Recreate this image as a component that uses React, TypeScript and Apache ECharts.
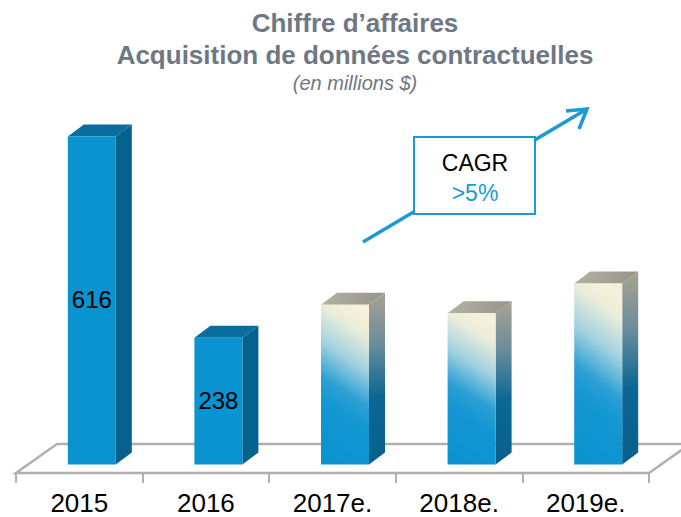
import React, { useEffect, useRef } from "react";
import * as echarts from "echarts";

const categories = ["2015", "2016", "2017e.", "2018e.", "2019e."];
const values = [616, 238, 300, 284, 340];
const valueLabels = ["616", "238", "", "", ""];
const projected = [false, false, true, true, true];
const titleLines = ["Chiffre d’affaires", "Acquisition de données contractuelles"];
const subtitle = "(en millions $)";
const cagrLabel = "CAGR";
const cagrValue = ">5%";

const FONT = "'Liberation Sans', Arial, sans-serif";
const BLUE = "#1b9ad6";

export default function App() {
  const ref = useRef<HTMLDivElement>(null);
  useEffect(() => {
    if (!ref.current) return;
    const chart = echarts.init(ref.current, undefined, { renderer: "svg" });
    const LG = echarts.graphic.LinearGradient;

    const barW = 48;
    const offX = 12.5;
    const offY = -8.5;
    const depX = 16;
    const depY = -12;
    const floorDX = 41;
    const floorDY = -29;

    chart.setOption({
      animation: false,
      backgroundColor: "#ffffff",
      title: {
        text: titleLines.join("\n"),
        subtext: subtitle,
        left: 350,
        textAlign: "center",
        top: 2,
        itemGap: 1,
        textStyle: {
          fontFamily: FONT,
          fontSize: 26,
          fontWeight: "bold",
          color: "#6e7883",
          lineHeight: 32,
        },
        subtextStyle: {
          fontFamily: FONT,
          fontSize: 20,
          fontStyle: "italic",
          color: "#6e7883",
          lineHeight: 22,
        },
      },
      grid: { left: 16, right: 32, top: 47, bottom: 44 },
      xAxis: {
        type: "category",
        data: categories,
        axisLine: { show: true, lineStyle: { color: "#b0b0b0", width: 2 } },
        axisTick: { show: true, length: 10, lineStyle: { color: "#b0b0b0", width: 2 } },
        axisLabel: { fontFamily: FONT, fontSize: 26, color: "#000", margin: 17 },
        splitLine: { show: false },
      },
      yAxis: { type: "value", min: 0, max: 800, show: false },
      series: [
        {
          type: "custom",
          z: 1,
          silent: true,
          clip: false,
          data: [[0, 0]],
          renderItem: (params: any, api: any) => {
            const cs = params.coordSys;
            const x0 = cs.x;
            const x1 = cs.x + cs.width;
            const y = cs.y + cs.height;
            return {
              type: "polygon",
              shape: {
                points: [
                  [x0, y],
                  [x1, y],
                  [x1 + floorDX, y + floorDY],
                  [x0 + floorDX, y + floorDY],
                ],
              },
              style: { fill: "#ffffff", stroke: "#b0b0b0", lineWidth: 2.5 },
            };
          },
        },
        {
          type: "custom",
          z: 2,
          clip: false,
          data: values.map((v, i) => [i, v]),
          renderItem: (params: any, api: any) => {
            const i = api.value(0);
            const v = api.value(1);
            const base = api.coord([i, 0]);
            const top = api.coord([i, v]);
            const xl = base[0] - barW / 2 + offX;
            const xr = xl + barW;
            const yb = base[1] + offY;
            const yt = top[1] + offY;
            const proj = projected[i];
            const frontFill = proj
              ? new LG(0.6, 0, 0.4, 1, [
                  { offset: 0, color: "#f6f1da" },
                  { offset: 0.12, color: "#eaedda" },
                  { offset: 0.33, color: "#a3d2e0" },
                  { offset: 0.55, color: "#2a9fd4" },
                  { offset: 0.7, color: "#1396d1" },
                  { offset: 1, color: "#0b93d0" },
                ])
              : "#0a93d1";
            const sideFill = proj
              ? new LG(0, 0, 0, 1, [
                  { offset: 0, color: "#a7a391" },
                  { offset: 0.3, color: "#6b8c9c" },
                  { offset: 0.6, color: "#0d6794" },
                  { offset: 1, color: "#07608c" },
                ])
              : "#05618e";
            const topFill = proj
              ? new LG(0, 0, 1, 0, [
                  { offset: 0, color: "#b3b1a2" },
                  { offset: 1, color: "#97958a" },
                ])
              : "#0a6d9e";
            const children: any[] = [
              {
                type: "polygon",
                shape: { points: [[xr, yb], [xr + depX, yb + depY], [xr + depX, yt + depY], [xr, yt]] },
                style: { fill: sideFill },
              },
              {
                type: "polygon",
                shape: { points: [[xl, yt], [xr, yt], [xr + depX, yt + depY], [xl + depX, yt + depY]] },
                style: { fill: topFill },
              },
              {
                type: "rect",
                shape: { x: xl, y: yt, width: barW, height: yb - yt },
                style: { fill: frontFill },
              },
            ];
            if (valueLabels[i]) {
              children.push({
                type: "text",
                x: (xl + xr) / 2,
                y: (yt + yb) / 2 - 1,
                style: {
                  text: valueLabels[i],
                  fontFamily: FONT,
                  fontSize: 24,
                  fill: "#000",
                  align: "center",
                  verticalAlign: "middle",
                },
              });
            }
            return { type: "group", children };
          },
        },
      ],
      graphic: [
        {
          type: "line",
          z: 10,
          shape: { x1: 363, y1: 242, x2: 587, y2: 109 },
          style: { stroke: BLUE, lineWidth: 3.5 },
        },
        {
          type: "polyline",
          z: 10,
          shape: { points: [[566, 111], [587, 109], [579, 129]] },
          style: { stroke: BLUE, lineWidth: 3.5, fill: null },
        },
        {
          type: "rect",
          z: 11,
          shape: { x: 414, y: 137, width: 121, height: 77 },
          style: { fill: "#ffffff", stroke: BLUE, lineWidth: 2 },
        },
        {
          type: "text",
          z: 12,
          x: 475,
          y: 163,
          style: {
            text: cagrLabel,
            fontFamily: FONT,
            fontSize: 23,
            fill: "#000",
            align: "center",
            verticalAlign: "middle",
          },
        },
        {
          type: "text",
          z: 12,
          x: 475,
          y: 193,
          style: {
            text: cagrValue,
            fontFamily: FONT,
            fontSize: 23,
            fill: BLUE,
            align: "center",
            verticalAlign: "middle",
          },
        },
      ],
    });
    return () => chart.dispose();
  }, []);
  return (
    <div
      ref={ref}
      style={{ position: "fixed", left: 0, top: 0, width: 681, height: 517 }}
    />
  );
}
